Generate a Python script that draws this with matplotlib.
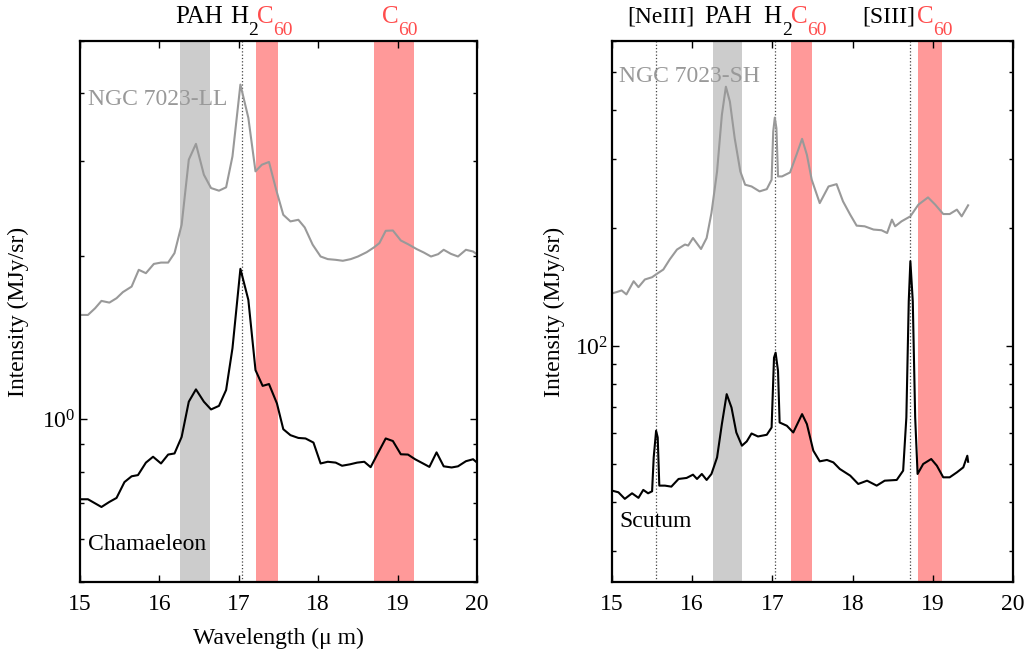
import numpy as np
import matplotlib
matplotlib.use("Agg")
import matplotlib.pyplot as plt
from matplotlib.ticker import LogLocator, NullFormatter

plt.rcParams['font.family'] = ['Liberation Serif', 'DejaVu Serif']
plt.rcParams['mathtext.fontset'] = 'stix'

# ---------------- data: left panel (LL) ----------------
wl_ll_ngc = [15.02, 15.10, 15.19, 15.27, 15.37, 15.46, 15.54, 15.65, 15.74, 15.83,
             15.93, 16.02, 16.11, 16.19, 16.28, 16.37, 16.46, 16.56, 16.65, 16.75,
             16.84, 16.92, 17.02, 17.12, 17.21, 17.29, 17.38, 17.47, 17.56, 17.65,
             17.75, 17.83, 17.93, 18.03, 18.12, 18.22, 18.31, 18.41, 18.50, 18.61,
             18.70, 18.77, 18.85, 18.94, 19.04, 19.13, 19.24, 19.33, 19.42, 19.51,
             19.58, 19.67, 19.76, 19.86, 19.95, 19.99]
int_ll_ngc = [1.558, 1.558, 1.603, 1.654, 1.642, 1.673, 1.717, 1.758, 1.888, 1.861,
              1.936, 1.947, 1.947, 2.027, 2.287, 3.017, 3.227, 2.830, 2.674, 2.644,
              2.682, 3.060, 4.154, 3.605, 2.871, 2.953, 2.988, 2.656, 2.386, 2.320,
              2.336, 2.261, 2.101, 1.998, 1.976, 1.970, 1.962, 1.976, 1.998, 2.035,
              2.076, 2.115, 2.229, 2.232, 2.139, 2.106, 2.062, 2.032, 1.998, 2.018,
              2.056, 2.021, 1.998, 2.056, 2.041, 2.021]

wl_ll_cha = [15.02, 15.10, 15.27, 15.37, 15.46, 15.56, 15.65, 15.73, 15.83, 15.92,
             16.02, 16.11, 16.19, 16.28, 16.37, 16.46, 16.56, 16.65, 16.75, 16.84,
             16.92, 17.02, 17.12, 17.21, 17.30, 17.38, 17.48, 17.56, 17.65, 17.75,
             17.84, 17.94, 18.03, 18.12, 18.22, 18.30, 18.40, 18.49, 18.58, 18.66,
             18.75, 18.85, 18.94, 19.04, 19.13, 19.22, 19.32, 19.40, 19.49, 19.58,
             19.68, 19.76, 19.86, 19.95, 20.00]
int_ll_cha = [0.711, 0.711, 0.688, 0.703, 0.715, 0.765, 0.784, 0.788, 0.831, 0.852,
              0.828, 0.860, 0.864, 0.927, 1.077, 1.135, 1.077, 1.042, 1.058, 1.132,
              1.352, 1.896, 1.661, 1.232, 1.152, 1.161, 1.069, 0.958, 0.934, 0.923,
              0.921, 0.905, 0.828, 0.834, 0.831, 0.820, 0.825, 0.831, 0.834, 0.815,
              0.864, 0.921, 0.911, 0.861, 0.860, 0.843, 0.828, 0.816, 0.868, 0.818,
              0.814, 0.818, 0.836, 0.843, 0.831]

# ---------------- data: right panel (SH) ----------------
wl_sh_ngc = [15.00, 15.06, 15.12, 15.18, 15.27, 15.33, 15.41, 15.50, 15.56, 15.64,
             15.72, 15.81, 15.91, 15.95, 16.01, 16.11, 16.18, 16.24, 16.31, 16.37,
             16.42, 16.47, 16.53, 16.60, 16.66, 16.74, 16.84, 16.93, 16.99, 17.01,
             17.03, 17.05, 17.07, 17.12, 17.22, 17.30, 17.37, 17.43, 17.49, 17.59,
             17.70, 17.80, 17.88, 17.97, 18.05, 18.15, 18.26, 18.36, 18.43, 18.49,
             18.53, 18.61, 18.72, 18.82, 18.94, 19.03, 19.13, 19.21, 19.30, 19.36,
             19.44]
int_sh_ngc = [136.2, 137.3, 138.6, 135.4, 146.3, 141.3, 147.8, 149.8, 152.8, 156.7,
              166.3, 176.2, 181.5, 180.4, 188.6, 176.8, 188.6, 218.4, 278.8, 388.8,
              458.7, 420.2, 338.8, 278.8, 257.9, 255.3, 248.0, 251.3, 265.6, 352.4,
              382.6, 359.3, 270.8, 270.8, 277.2, 307.4, 337.7, 307.4, 265.6, 231.5,
              255.3, 258.8, 233.9, 216.3, 202.8, 202.0, 198.2, 197.4, 194.2, 210.1,
              202.0, 208.0, 214.2, 229.4, 239.4, 229.4, 217.1, 217.1, 222.8, 214.2,
              228.5]

wl_sh_scu = [15.00, 15.08, 15.16, 15.25, 15.33, 15.39, 15.45, 15.50, 15.52, 15.55,
             15.57, 15.59, 15.66, 15.74, 15.83, 15.93, 16.01, 16.06, 16.12, 16.18,
             16.24, 16.31, 16.37, 16.43, 16.49, 16.55, 16.62, 16.68, 16.74, 16.82,
             16.93, 16.99, 17.02, 17.04, 17.07, 17.09, 17.18, 17.26, 17.31, 17.37,
             17.43, 17.51, 17.59, 17.68, 17.76, 17.84, 17.97, 18.07, 18.18, 18.30,
             18.40, 18.55, 18.63, 18.67, 18.70, 18.72, 18.75, 18.78, 18.81, 18.88,
             18.98, 19.05, 19.13, 19.21, 19.30, 19.38, 19.43, 19.44]
int_sh_scu = [42.76, 42.34, 40.74, 42.09, 40.98, 42.94, 42.09, 42.59, 51.96, 60.77,
              58.43, 44.03, 44.03, 43.77, 45.79, 46.06, 46.96, 45.79, 47.15, 45.52,
              47.15, 51.96, 63.20, 75.36, 69.66, 60.17, 55.67, 57.09, 59.81, 58.77,
              59.36, 61.96, 93.38, 96.15, 86.36, 63.80, 62.59, 60.17, 63.20, 67.02,
              63.20, 54.07, 50.78, 51.20, 50.47, 48.56, 46.69, 44.46, 45.33, 44.03,
              45.33, 45.52, 48.08, 65.70, 130.2, 164.5, 130.2, 65.70, 47.15, 50.00,
              51.48, 49.51, 46.23, 46.23, 47.60, 49.02, 52.48, 50.66]

# feature bands and lines
ll_pah_band = (16.26, 16.64)
ll_c60_bands = [(17.22, 17.49), (18.70, 19.20)]
ll_lines = [17.035]
sh_pah_band = (16.26, 16.62)
sh_c60_bands = [(17.23, 17.49), (18.81, 19.11)]
sh_lines = [15.55, 17.03, 18.71]

# top labels: (text, x of main text, x of subscript or None, subscript, colour, size)
ll_top = [('PAH', 16.196, None, '', 'black', 18),
          ('H', 16.889, 17.116, '2', 'black', 18),
          ('C', 17.229, 17.431, '60', '#ff4d4d', 18),
          ('C', 18.804, 19.005, '60', '#ff4d4d', 18)]
sh_top = [('[NeIII]', 15.19, None, '', 'black', 17),
          ('PAH', 16.147, None, '', 'black', 18),
          ('H', 16.883, 17.120, '2', 'black', 18),
          ('C', 17.232, 17.431, '60', '#ff4d4d', 18),
          ('[SIII]', 18.12, None, '', 'black', 17),
          ('C', 18.803, 19.002, '60', '#ff4d4d', 18)]

GRAY_BAND = '#cccccc'
RED_BAND = '#ff9999'
GRAY_LINE = '#999999'

fig = plt.figure(figsize=(10.27, 6.57), dpi=100)
axL = fig.add_axes([0.0779, 0.1142, 0.3866, 0.8234])
axR = fig.add_axes([0.5959, 0.1142, 0.3905, 0.8234])


def style(ax):
    ax.set_yscale('log')
    ax.set_xlim(15, 20)
    ax.set_xticks([15, 16, 17, 18, 19, 20])
    ax.yaxis.set_minor_locator(LogLocator(base=10, subs=np.arange(2, 10)))
    ax.yaxis.set_minor_formatter(NullFormatter())
    ax.tick_params(which='both', direction='in', top=True, right=True, labelsize=17)
    ax.tick_params(axis='x', which='major', length=5, width=1, pad=9)
    ax.tick_params(axis='y', which='major', length=5, width=1, pad=3)
    ax.tick_params(axis='y', which='minor', length=3, width=1)
    for s in ax.spines.values():
        s.set_linewidth(1.6)


def top_labels(ax, items):
    for txt, x, xs, sub, col, size in items:
        ax.annotate(txt, xy=(x, 1.0), xycoords=('data', 'axes fraction'),
                    xytext=(0, 13), textcoords='offset points',
                    ha='left', va='baseline', fontsize=size, color=col,
                    annotation_clip=False)
        if xs is not None:
            ax.annotate(sub, xy=(xs, 1.0), xycoords=('data', 'axes fraction'),
                        xytext=(0, 4.5), textcoords='offset points',
                        ha='left', va='baseline', fontsize=14, color=col,
                        annotation_clip=False)


# ---------- left ----------
style(axL)
axL.set_ylim(0.5, 5)
axL.axvspan(*ll_pah_band, color=GRAY_BAND, lw=0, zorder=0)
for b in ll_c60_bands:
    axL.axvspan(*b, color=RED_BAND, lw=0, zorder=0)
for xl in ll_lines:
    axL.axvline(xl, color='#444444', ls=':', lw=0.9, zorder=1)
axL.plot(wl_ll_ngc, int_ll_ngc, color=GRAY_LINE, lw=1.5, zorder=2)
axL.plot(wl_ll_cha, int_ll_cha, color='black', lw=1.5, zorder=3)
axL.text(0.02, 0.881, 'NGC 7023-LL', transform=axL.transAxes, fontsize=17,
         color=GRAY_LINE, va='baseline', ha='left')
axL.text(0.02, 0.059, 'Chamaeleon', transform=axL.transAxes, fontsize=17,
         color='black', va='baseline', ha='left')
axL.set_xlabel('Wavelength (μ m)', fontsize=17, labelpad=9)
axL.set_ylabel('Intensity (MJy/sr)', fontsize=17)
axL.yaxis.set_label_coords(-0.128, 0.5)
top_labels(axL, ll_top)

# ---------- right ----------
style(axR)
axR.set_ylim(25, 600)
axR.axvspan(*sh_pah_band, color=GRAY_BAND, lw=0, zorder=0)
for b in sh_c60_bands:
    axR.axvspan(*b, color=RED_BAND, lw=0, zorder=0)
for xl in sh_lines:
    axR.axvline(xl, color='#444444', ls=':', lw=0.9, zorder=1)
axR.plot(wl_sh_ngc, int_sh_ngc, color=GRAY_LINE, lw=1.5, zorder=2)
axR.plot(wl_sh_scu, int_sh_scu, color='black', lw=1.5, zorder=3)
axR.text(0.018, 0.924, 'NGC 7023-SH', transform=axR.transAxes, fontsize=17,
         color=GRAY_LINE, va='baseline', ha='left')
axR.text(0.018, 0.102, 'Scutum', transform=axR.transAxes, fontsize=17,
         color='black', va='baseline', ha='left')
axR.set_ylabel('Intensity (MJy/sr)', fontsize=17)
axR.yaxis.set_label_coords(-0.117, 0.5)
top_labels(axR, sh_top)

fig.savefig('out.png', dpi=100)
